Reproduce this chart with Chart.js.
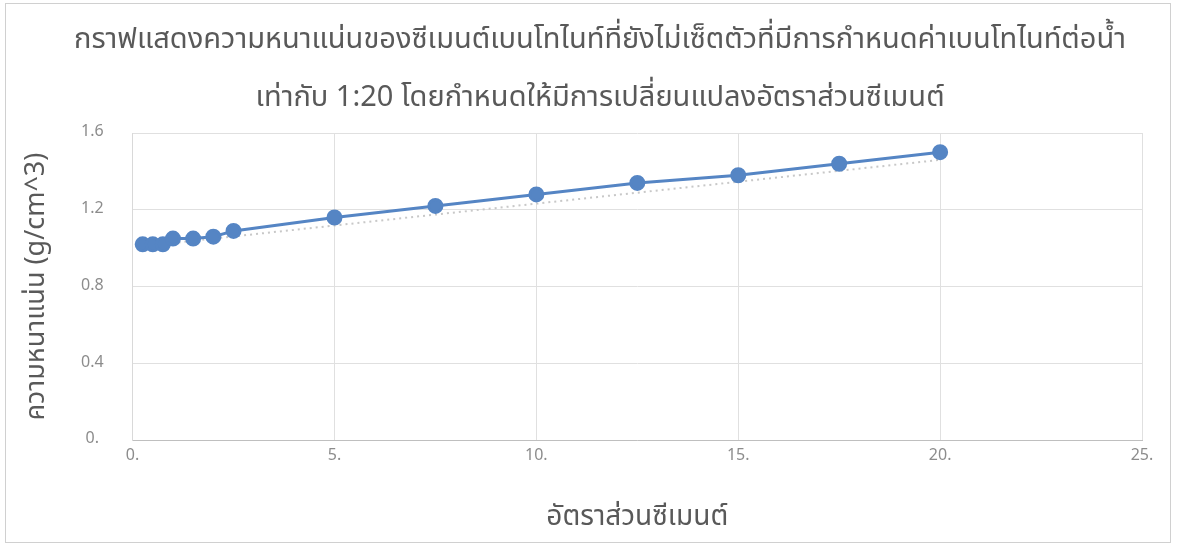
<!DOCTYPE html>
<html>
<head>
<meta charset="utf-8">
<script src="https://cdn.jsdelivr.net/npm/chart.js@4"></script>
<style>
  body { margin: 0; background: #fff; }
  #wrap { width: 1178px; height: 546px; }
</style>
</head>
<body>
<div id="wrap"><canvas id="chartDensidad"></canvas></div>
<script>
// datos
const ratioX = [0.25, 0.5, 0.75, 1, 1.5, 2, 2.5, 5, 7.5, 10, 12.5, 15, 17.5, 20];
const densityY = [1.02, 1.02, 1.02, 1.05, 1.05, 1.06, 1.09, 1.16, 1.22, 1.28, 1.34, 1.38, 1.44, 1.50];
const trendX = [0.25, 20];
const trendY = [1.01, 1.46];
const xTickLabels = ["0.", "5.", "10.", "15.", "20.", "25."];
const yTickLabels = ["0.", "0.4", "0.8", "1.2", "1.6"];
const titleLines = [
  "กราฟแสดงความหนาแน่นของซีเมนต์เบนโทไนท์ที่ยังไม่เซ็ตตัวที่มีการกำหนดค่าเบนโทไนท์ต่อน้ำ",
  "เท่ากับ 1:20 โดยกำหนดให้มีการเปลี่ยนแปลงอัตราส่วนซีเมนต์"
];

const thaiFont = "'Noto Sans Thai', 'Noto Sans', 'DejaVu Sans', sans-serif";

// marco exterior y título centrado en la página
const frame = {
  id: "frame",
  afterDraw(chart) {
    const c = chart.ctx;
    c.save();
    c.strokeStyle = "#d0d0d0";
    c.lineWidth = 1;
    c.strokeRect(5.5, 3.5, 1165, 539);
    c.fillStyle = "#595959";
    c.font = "29px " + thaiFont;
    c.textAlign = "center";
    c.textBaseline = "middle";
    c.fillText(titleLines[0], 600, 42);
    c.fillText(titleLines[1], 600, 100);
    c.restore();
  }
};

const ctx = document.getElementById("chartDensidad").getContext("2d");
new Chart(ctx, {
  type: "scatter",
  data: {
    datasets: [{
      label: "ความหนาแน่น",
      data: ratioX.map((x, i) => ({ x: x, y: densityY[i] })),
      showLine: true,
      borderColor: "#5585c4",
      backgroundColor: "#5585c4",
      borderWidth: 3,
      pointRadius: 6.5,
      pointHoverRadius: 6.5,
      order: 1
    }, {
      label: "trend",
      data: trendX.map((x, i) => ({ x: x, y: trendY[i] })),
      showLine: true,
      borderColor: "#c8c8c8",
      borderWidth: 2,
      borderDash: [2, 4],
      pointRadius: 0,
      order: 2
    }]
  },
  options: {
    responsive: true,
    maintainAspectRatio: false,
    animation: false,
    layout: { padding: { left: 25, right: 36, top: 133, bottom: 10 } },
    plugins: {
      legend: { display: false },
      tooltip: { enabled: false },
      title: { display: false }
    },
    scales: {
      x: {
        type: "linear",
        min: 0,
        max: 25,
        ticks: {
          stepSize: 5,
          color: "#8c8c8c",
          font: { family: thaiFont, size: 16 },
          padding: 7,
          callback: (v, i) => xTickLabels[i]
        },
        grid: { color: "#e0e0e0", drawTicks: false },
        border: { color: "#bfbfbf" },
        title: {
          display: true,
          text: "อัตราส่วนซีเมนต์",
          color: "#595959",
          font: { family: thaiFont, size: 28 },
          padding: { top: 29, bottom: 0 }
        }
      },
      y: {
        min: 0,
        max: 1.6,
        ticks: {
          stepSize: 0.4,
          color: "#8c8c8c",
          font: { family: thaiFont, size: 16 },
          padding: 29,
          crossAlign: "center",
          callback: (v, i) => yTickLabels[i]
        },
        grid: { color: "#e0e0e0", drawTicks: false },
        border: { color: "#d9d9d9" },
        title: {
          display: true,
          text: "ความหนาแน่น (g/cm^3)",
          color: "#595959",
          font: { family: thaiFont, size: 27, lineHeight: 1.0 },
          padding: { top: 0, bottom: 0 }
        }
      }
    }
  },
  plugins: [frame]
});
</script>
</body>
</html>
